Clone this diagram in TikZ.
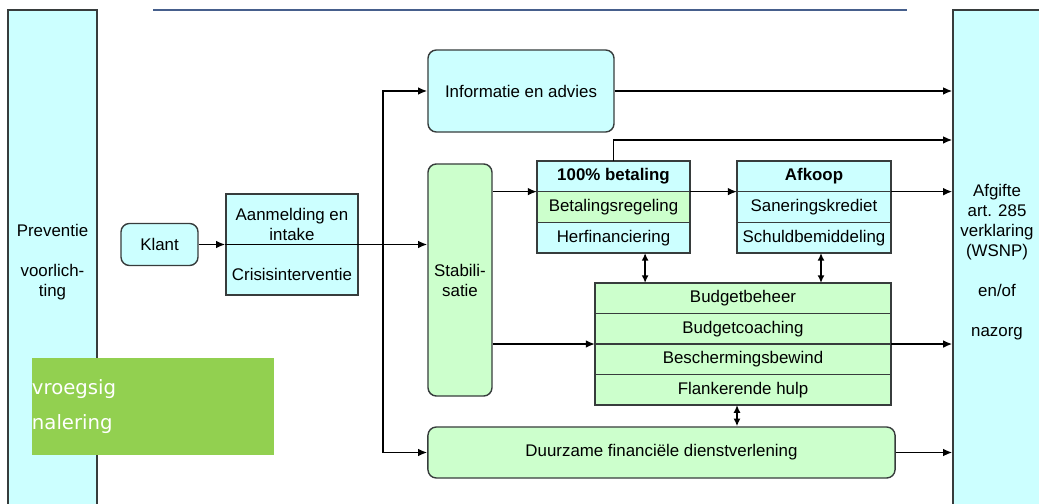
\documentclass[tikz,border=0pt]{standalone}
\usepackage{fontspec}
\setmainfont{Liberation Sans}
\newfontfamily\signalfont{DejaVu Sans}
\usepackage{tikz}
\usetikzlibrary{arrows.meta}
\usetikzlibrary{positioning}
\tikzstyle{line} = [draw, -{Latex[length=6.5pt,width=5.5pt]}]
\definecolor{lichtblauw}{RGB}{204,255,255}
\definecolor{lichtgroen}{RGB}{204,255,204}
\definecolor{signaalgroen}{RGB}{146,208,80}
\definecolor{rand}{RGB}{55,60,60}
\definecolor{kopblauw}{RGB}{70,95,140}
\tikzset{
    panel/.style={draw=rand, fill=lichtblauw, line width=1pt, align=center, inner sep=0pt},
    blok/.style={draw=rand, line width=1pt, rounded corners=6pt, align=center, inner sep=0pt},
    rij/.style={draw=rand, line width=1pt, inner sep=0pt, outer sep=0pt, minimum height=0.7667cm},
    budgetrij/.style={rij, fill=lichtgroen, minimum width=7.4cm, minimum height=0.7625cm},
    dubbel/.style={draw, {Latex[length=5.5pt,width=5pt]}-{Latex[length=5.5pt,width=5pt]}},
}

\begin{document}
\begin{tikzpicture}[x=0.025cm, y=-0.025cm, line width=1.2pt, font=\fontsize{12}{14.2}\selectfont]
	\useasboundingbox (0,0) rectangle (1039,504);
	\node[panel, minimum width=2.225cm, minimum height=12.625cm] (preventie) at (52.5,262.5) {Preventie\\[14.2pt]voorlich-\\ting};
	\node[panel, minimum width=2.2cm, minimum height=12.625cm] (afgifte) at (997,262.5) {Afgifte\\art. 285\\verklaring\\(WSNP)\\[14.2pt]en/of\\[14.2pt]nazorg};
	\draw[kopblauw, line width=1.5pt] (153,10) -- (907,10);
	\node[blok, fill=lichtblauw, minimum width=1.925cm, minimum height=1.05cm] (klant) at (159.5,244.5) {Klant};
	\node[panel, minimum width=3.3cm, minimum height=2.525cm] (aanmelding) at (292,244.5) {Aanmelding en\\intake\\[14.2pt]Crisisinterventie};
	\node[blok, fill=lichtblauw, minimum width=4.65cm, minimum height=2.05cm] (informatie) at (521,91) {Informatie en advies};
	\node[blok, fill=lichtgroen, minimum width=1.6cm, minimum height=5.8cm] (stabilisatie) at (460,280) {Stabili-\\satie};
	\node[blok, fill=lichtgroen, minimum width=11.675cm, minimum height=1.275cm] (duurzaam) at (661.5,452.5) {Duurzame financi\"ele dienstverlening};
% 100% betaling
	\node[rij, fill=lichtblauw, minimum width=3.825cm] (betaling) at (613.5,176.3) {\textbf{100\% betaling}};
	\node[rij, fill=lichtgroen, minimum width=3.825cm, below=0pt of betaling] (regeling) {Betalingsregeling};
	\node[rij, fill=lichtblauw, minimum width=3.825cm, below=0pt of regeling] (herfin) {Herfinanciering};
% Afkoop
	\node[rij, fill=lichtblauw, minimum width=3.85cm] (afkoop) at (814,176.3) {\textbf{Afkoop}};
	\node[rij, fill=lichtblauw, minimum width=3.85cm, below=0pt of afkoop] (krediet) {Saneringskrediet};
	\node[rij, fill=lichtblauw, minimum width=3.85cm, below=0pt of krediet] (bemiddeling) {Schuldbemiddeling};
% budget
	\node[budgetrij] (beheer) at (743,298.25) {Budgetbeheer};
	\node[budgetrij, below=0pt of beheer] (coaching) {Budgetcoaching};
	\node[budgetrij, below=0pt of coaching] (bewind) {Beschermingsbewind};
	\node[budgetrij, below=0pt of bewind] (hulp) {Flankerende hulp};
% pijlen
	\coordinate (splitsing) at (383,244.5);
	\coordinate (top100) at (613.5,140);
	\path[line] (klant) -- (aanmelding);
	\path[line] (aanmelding.west) -- (aanmelding.west -| stabilisatie.west);
	\path[line] (splitsing) |- (informatie);
	\path[line] (splitsing) |- (duurzaam);
	\path[line] (informatie) -- (informatie -| afgifte.west);
	\path[line] (betaling.north) -- (top100) -- (top100 -| afgifte.west);
	\path[line] (stabilisatie.east |- betaling.south) -- (betaling.south west);
	\path[line] (betaling.south east) -- (afkoop.south west);
	\path[line] (afkoop.south east) -- (afkoop.south east -| afgifte.west);
	\path[line] (stabilisatie.east |- coaching.south) -- (coaching.south west);
	\path[line] (coaching.south east) -- (coaching.south east -| afgifte.west);
	\path[line] (duurzaam) -- (duurzaam -| afgifte.west);
	\path[dubbel] ([xshift=0.79cm]herfin.south) -- ([xshift=0.79cm]herfin.south |- beheer.north);
	\path[dubbel] ([xshift=0.175cm]bemiddeling.south) -- ([xshift=0.175cm]bemiddeling.south |- beheer.north);
	\path[dubbel] ([xshift=-0.15cm]hulp.south) -- ([xshift=-0.15cm]hulp.south |- duurzaam.north);
% vroegsignalering
	\node[fill=signaalgroen, minimum width=6.05cm, minimum height=2.425cm, text width=6.05cm, align=left, inner sep=0pt, text=white, font=\signalfont\fontsize{14}{25}\selectfont] (signalering) at (153,406.5) {vroegsig\\nalering\\[-4pt]};
\end{tikzpicture}
\end{document}
